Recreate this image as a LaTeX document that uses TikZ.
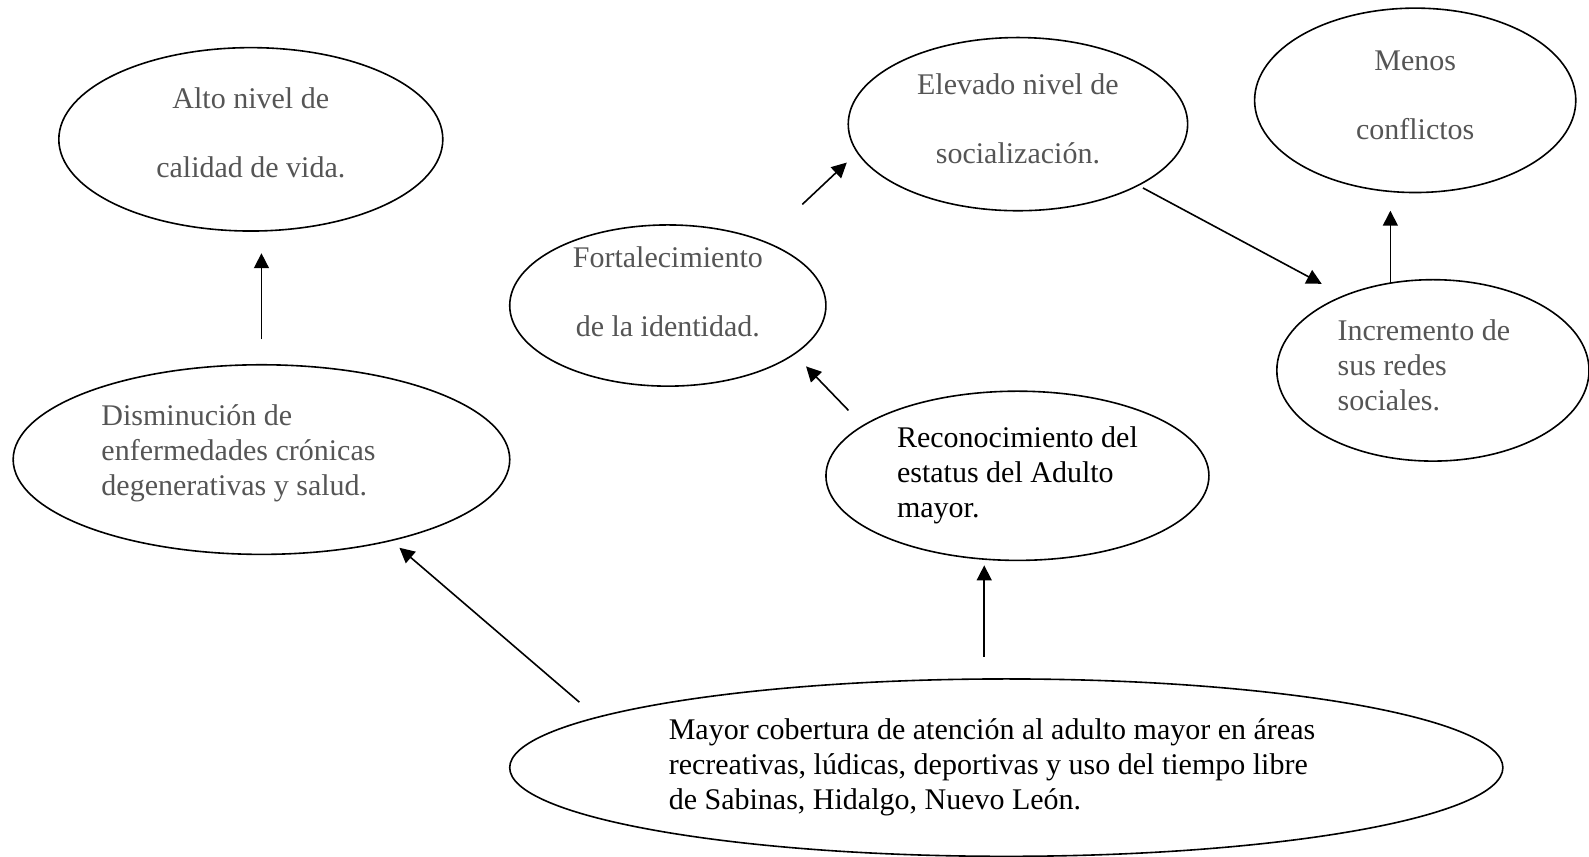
\documentclass[tikz,border=0pt]{standalone}
\usepackage{fontspec}
\setmainfont{Liberation Serif}
\usepackage{xcolor}
\usetikzlibrary{arrows.meta,shapes.geometric}
\definecolor{txtgray}{RGB}{85,85,85}

\begin{document}
\begin{tikzpicture}[x=0.5067pt, y=-0.5067pt, oval/.style={draw, ellipse, line width=0.8pt, inner sep=0pt, outer sep=0pt, text=txtgray, font=\fontsize{15pt}{17.5pt}\selectfont}, dark/.style={oval, text=black}, arr/.style={-{Triangle[length=7.5pt,width=7.5pt]}, line width=0.8pt}]
\useasboundingbox (0,0) rectangle (1568,845);
\node[oval, minimum width=192pt, minimum height=91.7pt, align=center, text height=41.5pt, text depth=3.3pt] (alto) at (247.5,137.5) {Alto nivel de\\[17pt]calidad de vida.};
\node[oval, minimum width=248.3pt, minimum height=94.8pt, align=flush left, text width=160pt, text depth=44.3pt] (dism) at (258,453.5) {Disminución de\\enfermedades crónicas\\degenerativas y salud.};
\node[oval, minimum width=158.1pt, minimum height=80.6pt, align=center, text height=37.6pt, text depth=7.1pt] (fort) at (659,301.5) {Fortalecimiento\\[17pt]de la identidad.};
\node[oval, minimum width=169.7pt, minimum height=86.6pt, align=center, text height=42.2pt, text depth=2.5pt] (elev) at (1004.5,122.5) {Elevado nivel de\\[17pt]socialización.};
\node[oval, minimum width=160.6pt, minimum height=92.2pt, align=center, text height=41.6pt, text depth=2.8pt] (menos) at (1396.5,99) {Menos\\[17pt]conflictos};
\node[oval, minimum width=156.1pt, minimum height=90.7pt, align=flush left, text width=95.3pt, text depth=40pt] (incr) at (1414,365.5) {Incremento de\\sus redes\\sociales.};
\node[dark, minimum width=191.5pt, minimum height=84.6pt, align=left] (reco) at (1004,469.5) {Reconocimiento del\\estatus del Adulto\\mayor.};
\node[dark, minimum width=496.6pt, minimum height=88.7pt, align=flush left, text width=337.5pt] (mayor) at (993,757.5) {Mayor cobertura de atención al adulto mayor en áreas\\recreativas, lúdicas, deportivas y uso del tiempo libre\\de Sabinas, Hidalgo, Nuevo León.};
\draw[arr, shorten <=12.7pt, shorten >=11.1pt] (dism.north) -- (dism.north |- alto.south);
\draw[arr, shorten <=26.9pt, shorten >=7.4pt] (fort.34) -- (elev.190);
\draw[arr, shorten <=2.8pt, shorten >=12.7pt] (elev.-27) -- (incr.140);
\draw[arr, shorten >=9.1pt] (incr.116) -- (incr.116 |- menos.south);
\draw[arr, shorten <=10.6pt, shorten >=8.6pt] (reco.162) -- (fort.-21);
\draw[arr, shorten <=11.1pt, shorten >=2.5pt] (mayor.104) -- (mayor.104 |- reco.south);
\draw[arr, shorten <=11.7pt, shorten >=5.6pt] (mayor.173) -- (dism.-32);
\end{tikzpicture}
\end{document}
